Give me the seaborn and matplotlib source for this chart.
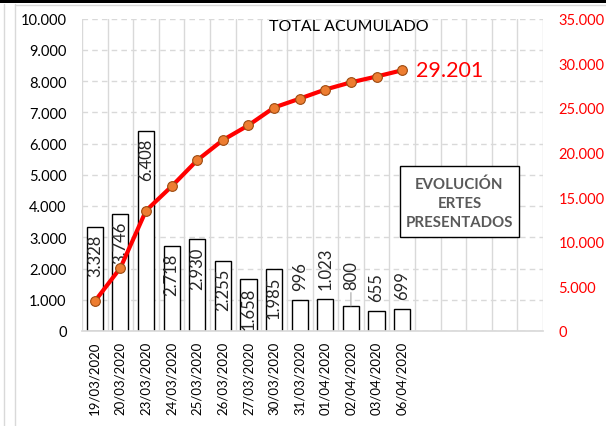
import numpy as np
import pandas as pd
import matplotlib.pyplot as plt
import matplotlib.ticker as mticker
from matplotlib.patches import Rectangle
from matplotlib.lines import Line2D
import seaborn as sns

# Datos
fechas = ["19/03/2020", "20/03/2020", "23/03/2020", "24/03/2020", "25/03/2020",
          "26/03/2020", "27/03/2020", "30/03/2020", "31/03/2020", "01/04/2020",
          "02/04/2020", "03/04/2020", "06/04/2020"]
ertes = [3328, 3746, 6408, 2718, 2930, 2255, 1658, 1985, 996, 1023, 800, 655, 699]
acumulado = [3328, 7074, 13482, 16200, 19130, 21385, 23043, 25028, 26024,
             27047, 27847, 28502, 29201]
n_huecos = 18  # el eje tiene sitio para 18 fechas


def miles(v, _=None):
    return f"{int(round(v)):,}".replace(",", ".")


sns.set_theme(style="white")
plt.rcParams['font.family'] = ['Lato', 'DejaVu Sans']

W, H = 606, 427
fig = plt.figure(figsize=(W / 100, H / 100), dpi=100)
ax = fig.add_axes([82 / W, (H - 332) / H, (543 - 82) / W, (332 - 19.5) / H])

df = pd.DataFrame({"fecha": fechas, "ertes": ertes})
sns.barplot(data=df, x="fecha", y="ertes", ax=ax, color="white", saturation=1,
            edgecolor="black", linewidth=1, width=0.63)

ax.set_xlim(-0.5, n_huecos - 0.5)
ax.set_ylim(0, 10000)
ax.set_yticks(np.arange(0, 10001, 1000))
ax.yaxis.set_major_formatter(mticker.FuncFormatter(miles))
ax.set_xticks(np.arange(len(fechas)))
ax.set_xticklabels(fechas, rotation=90, fontsize=9.5)
ax.set_xticks(np.arange(-0.5, n_huecos, 1), minor=True)
ax.tick_params(axis="y", length=0, pad=11, labelsize=10.5, colors="black")
ax.tick_params(axis="x", which="both", length=0, pad=7, colors="black")
ax.yaxis.grid(True, color="#D9D9D9", lw=1, ls=(0, (4, 3)))
ax.xaxis.grid(True, which="minor", color="#D9D9D9", lw=1)
ax.set_axisbelow(True)
ax.set_xlabel("")
ax.set_ylabel("")
for s in ["top", "left", "right"]:
    ax.spines[s].set_visible(False)
ax.spines["bottom"].set_color("#D9D9D9")

# etiquetas de las barras
for i, v in enumerate(ertes):
    if v > 1500:
        ax.annotate(miles(v), (i, v), xytext=(0, -5), textcoords="offset points",
                    rotation=90, ha="center", va="top", fontsize=12)
    elif v == 800:
        ax.annotate(miles(v), (i, v), xytext=(0, 12), textcoords="offset points",
                    rotation=90, ha="center", va="bottom", fontsize=12,
                    arrowprops=dict(arrowstyle="-", color="#A6A6A6", lw=0.8,
                                    shrinkA=0, shrinkB=0))
    else:
        ax.annotate(miles(v), (i, v), xytext=(0, 7), textcoords="offset points",
                    rotation=90, ha="center", va="bottom", fontsize=12)

# total acumulado en el eje derecho
ax2 = ax.twinx()
sns.lineplot(x=np.arange(len(acumulado)), y=acumulado, ax=ax2, color="red", lw=3,
             marker="o", markersize=7, markerfacecolor="#ED7D31",
             markeredgecolor="#9C4A10", markeredgewidth=0.8)
ax2.set_ylim(0, 35000)
ax2.set_yticks(np.arange(0, 35001, 5000))
ax2.yaxis.set_major_formatter(mticker.FuncFormatter(miles))
ax2.tick_params(axis="y", length=0, pad=11, labelsize=10.5, colors="red")
ax2.grid(False)
ax2.set_ylabel("")
for s in ax2.spines.values():
    s.set_visible(False)
ax2.annotate(miles(acumulado[-1]), (len(acumulado) - 1, acumulado[-1]),
             xytext=(10, 0), textcoords="offset points", color="red",
             fontsize=15.5, ha="left", va="center")

fig.text(349 / W, 1 - 27 / H, "TOTAL ACUMULADO", ha="center", va="center",
         fontsize=11.5, color="black")

# recuadro
fig.add_artist(Rectangle((400 / W, 1 - 238 / H), 119 / W, 71 / H,
                         transform=fig.transFigure, fc="white", ec="black", lw=1))
fig.text(459.5 / W, 1 - 204 / H, "EVOLUCIÓN\nERTES\nPRESENTADOS", ha="center",
         va="center", fontsize=10.8, weight="bold", color="#595959", linespacing=1.45)

# marco de la imagen
fig.add_artist(Rectangle((0, 1 - 4 / H), 1, 4 / H, transform=fig.transFigure,
                         color="black", lw=0))
fig.add_artist(Line2D([15 / W, 15 / W], [0, 1 - 5 / H], transform=fig.transFigure,
                      color="#D9D9D9", lw=1))
fig.add_artist(Line2D([4 / W, 4 / W], [0, 1 - 5 / H], transform=fig.transFigure,
                      color="#D9D9D9", lw=1))
fig.add_artist(Line2D([15 / W, 1], [1 - 5.5 / H, 1 - 5.5 / H], transform=fig.transFigure,
                      color="#D9D9D9", lw=1))

fig.savefig("out.png", dpi=100)
